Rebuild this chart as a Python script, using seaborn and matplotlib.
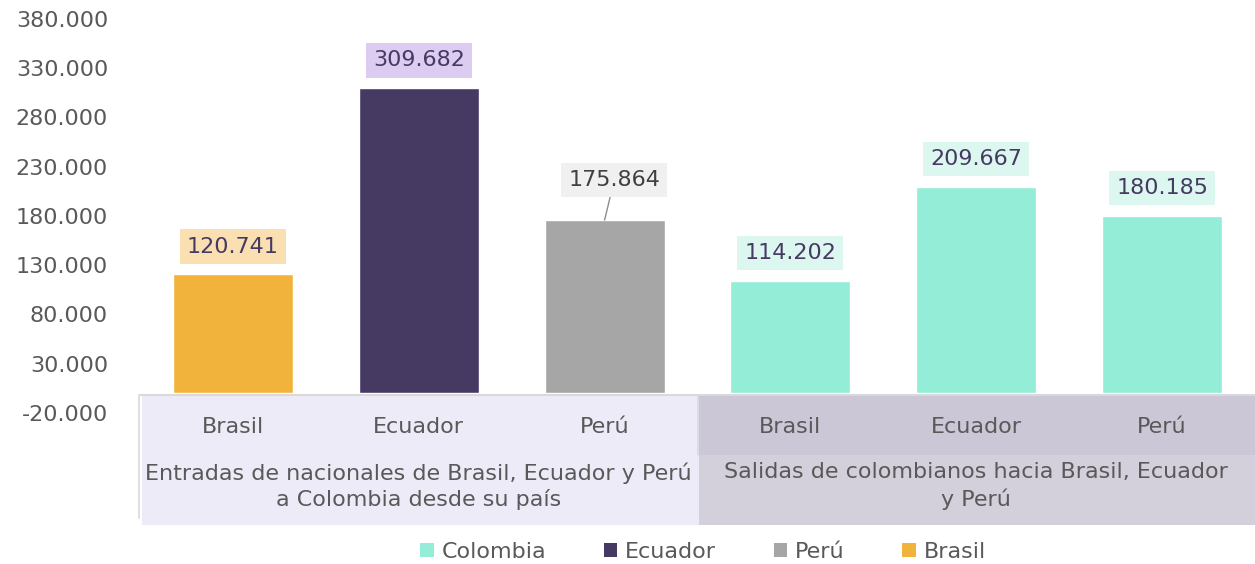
import matplotlib
matplotlib.use("Agg")
import matplotlib.pyplot as plt
import matplotlib.transforms as mtransforms
from matplotlib.patches import Rectangle, Patch
from matplotlib.ticker import FuncFormatter
import seaborn as sns
import pandas as pd

# ---- data ----
groups = ["Entradas de nacionales de Brasil, Ecuador y Perú\na Colombia desde su país",
          "Salidas de colombianos hacia Brasil, Ecuador\ny Perú"]
countries = ["Brasil", "Ecuador", "Perú", "Brasil", "Ecuador", "Perú"]
group_of_bar = [0, 0, 0, 1, 1, 1]
values = [120741, 309682, 175864, 114202, 209667, 180185]
series = ["Brasil", "Ecuador", "Perú", "Colombia", "Colombia", "Colombia"]
legend_names = ["Colombia", "Ecuador", "Perú", "Brasil"]

bar_colors = {"Colombia": "#93EDD7", "Ecuador": "#463A63", "Perú": "#A6A6A6", "Brasil": "#F2B33D"}
label_bg = {"Colombia": "#DCF7F0", "Ecuador": "#DCCCF2", "Perú": "#F0F0F0", "Brasil": "#FAE0B0"}
label_fg = {"Colombia": "#463A63", "Ecuador": "#463A63", "Perú": "#404040", "Brasil": "#463A63"}

yticks = list(range(-20000, 380001, 50000))

sns.set_theme(style="white")
plt.rcParams["font.family"] = ["DejaVu Sans"]

FS = 16

df = pd.DataFrame({
    "key": [f"{g}_{c}" for g, c in zip(group_of_bar, countries)],
    "value": values,
    "series": series,
})

W, H = 1255, 564
fig = plt.figure(figsize=(W / 100, H / 100), dpi=100)
ax = fig.add_axes([140 / W, (H - 413) / H, (1255 - 140) / W, (413 - 19) / H])

palette = {k: bar_colors[s] for k, s in zip(df["key"], df["series"])}
sns.barplot(data=df, x="key", y="value", hue="key", palette=palette, legend=False,
            width=0.646, saturation=1, ax=ax)

ax.set_xlim(-0.5, 5.5)
ax.set_ylim(-20000, 380000)
ax.set_yticks(yticks)
ax.yaxis.set_major_formatter(FuncFormatter(lambda v, p: f"{int(v):,}".replace(",", ".")))
ax.tick_params(axis="y", labelsize=FS, labelcolor="#595959", length=0, pad=23)
ax.set_xticks([])
ax.set_xlabel("")
ax.set_ylabel("")
for s in ax.spines.values():
    s.set_visible(False)

# ---- data labels ----
for i, (v, s) in enumerate(zip(values, series)):
    txt = f"{v:,}".replace(",", ".")
    if i == 2:
        ax.annotate(txt, xy=(i, v), xytext=(7, 29),
                    textcoords="offset points", ha="center", va="center",
                    fontsize=FS, color=label_fg[s],
                    bbox=dict(boxstyle="square,pad=0.32", fc=label_bg[s], ec="none"),
                    arrowprops=dict(arrowstyle="-", color="#8C8C8C", lw=1,
                                    shrinkA=0, shrinkB=0))
    else:
        ax.annotate(txt, xy=(i, v), xytext=(0, 20),
                    textcoords="offset points", ha="center", va="center",
                    fontsize=FS, color=label_fg[s],
                    bbox=dict(boxstyle="square,pad=0.32", fc=label_bg[s], ec="none"))

# ---- category table under the axis ----
tr = mtransforms.blended_transform_factory(ax.transData, ax.transAxes)
def yax(px):
    return (413 - px) / 394.0

top, mid, bot = yax(395), yax(455), yax(525)
ax.add_patch(Rectangle((-0.49, bot), 3.0, top - bot, transform=tr, fc="#ECEBF7",
                       ec="none", clip_on=False, zorder=0))
ax.add_patch(Rectangle((2.51, mid), 3.0, top - mid, transform=tr, fc="#CBC7D6",
                       ec="none", clip_on=False, zorder=0))
ax.add_patch(Rectangle((2.51, bot), 3.0, mid - bot, transform=tr, fc="#D3CFDB",
                       ec="none", clip_on=False, zorder=0))
ax.plot([-0.5, 5.5], [top, top], transform=tr, color="#D9D9D9", lw=1.5, clip_on=False)
ax.plot([-0.505, -0.505], [top, yax(518)], transform=tr, color="#D9D9D9", lw=1.2, clip_on=False)
ax.plot([2.505, 2.505], [top, mid], transform=tr, color="#D9D9D9", lw=1.2, clip_on=False)

for i, c in enumerate(countries):
    ax.text(i, yax(427), c, transform=tr, ha="center", va="center",
            fontsize=FS, color="#595959")
for g, txt in enumerate(groups):
    ax.text(1 + 3 * g, yax(486), txt, transform=tr, ha="center", va="center",
            fontsize=FS, color="#595959", linespacing=1.32)

# ---- legend ----
handles = [Patch(facecolor=bar_colors[n], edgecolor="none", label=n) for n in legend_names]
leg = ax.legend(handles=handles, loc="center", bbox_to_anchor=(0.505, yax(552)),
                ncol=4, frameon=False, fontsize=FS, handlelength=0.6,
                handleheight=0.6, handletextpad=0.35, columnspacing=2.6,
                borderaxespad=0)
for t in leg.get_texts():
    t.set_color("#595959")

fig.savefig("out.png", dpi=100)
